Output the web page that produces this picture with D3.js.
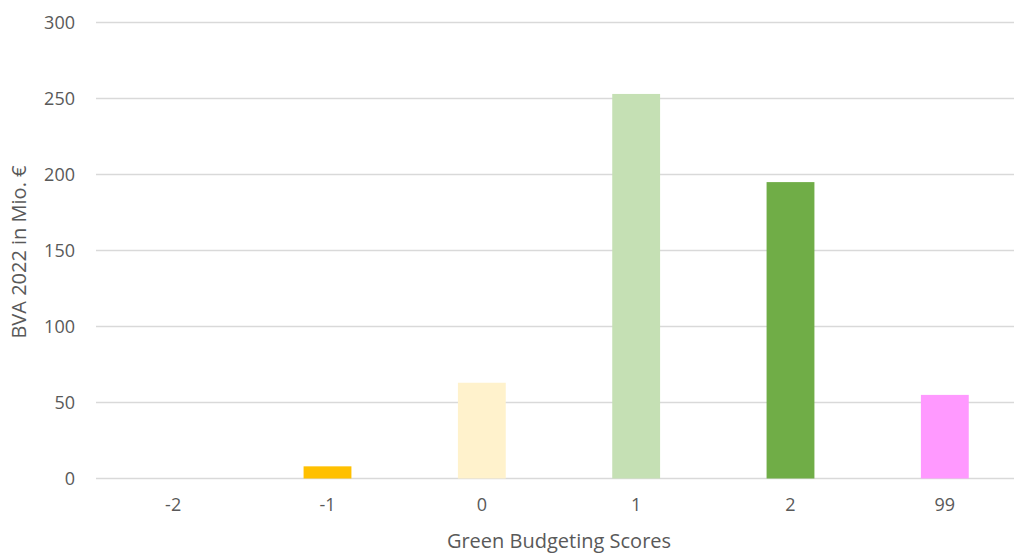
<!DOCTYPE html>
<html lang="de">
<head>
  <meta charset="UTF-8" />
  <title>Green Budgeting Scores</title>
  <script src="https://d3js.org/d3.v7.min.js"></script>
  <style>
    body { margin: 0; background: #fff; }
    .axis text { fill: #595959; font-family: "Open Sans", sans-serif; font-size: 18px; }
    .grid line { stroke: #d9d9d9; stroke-width: 1.5; }
    .title { fill: #595959; font-family: "Open Sans", sans-serif; font-size: 20px; }
  </style>
</head>
<body>
  <div id="chart"></div>

  <script>
    // chart data
    const scores = ["-2", "-1", "0", "1", "2", "99"];
    const values = [0, 8, 63, 253, 195, 55];
    const barColors = ["#FFC000", "#FFC000", "#FFF2CC", "#C5E0B4", "#70AD47", "#FF99FF"];
    const yTicks = [0, 50, 100, 150, 200, 250, 300];

    const width = 1014, height = 554;
    const margin = { top: 22.5, right: -8, bottom: 75.5, left: 96 };
    const chartWidth = width - margin.left - margin.right;
    const chartHeight = height - margin.top - margin.bottom;

    const svg = d3.select("#chart")
      .append("svg")
      .attr("width", width)
      .attr("height", height);

    const g = svg.append("g")
      .attr("transform", `translate(${margin.left},${margin.top})`);

    // Scales
    const x = d3.scaleBand()
      .domain(scores)
      .range([0, chartWidth])
      .paddingInner(0.69)
      .paddingOuter(0.345);

    const y = d3.scaleLinear()
      .domain([0, 300])
      .range([chartHeight, 0]);

    // Gridlines
    g.append("g")
      .attr("class", "grid")
      .selectAll("line")
      .data(yTicks)
      .enter().append("line")
      .attr("x1", 0)
      .attr("x2", chartWidth)
      .attr("y1", d => y(d))
      .attr("y2", d => y(d));

    // Bars
    g.selectAll(".bar")
      .data(scores)
      .enter().append("rect")
      .attr("class", "bar")
      .attr("x", d => x(d))
      .attr("width", x.bandwidth())
      .attr("y", (d, i) => y(values[i]))
      .attr("height", (d, i) => y(0) - y(values[i]))
      .attr("fill", (d, i) => barColors[i]);

    // Axes
    const yAxis = g.append("g")
      .attr("class", "axis")
      .call(d3.axisLeft(y).tickValues(yTicks).tickSize(0).tickPadding(21));
    yAxis.select(".domain").remove();

    const xAxis = g.append("g")
      .attr("class", "axis")
      .attr("transform", `translate(0,${chartHeight})`)
      .call(d3.axisBottom(x).tickSize(0).tickPadding(20));
    xAxis.select(".domain").remove();

    // Axis titles
    svg.append("text")
      .attr("class", "title")
      .attr("x", 559)
      .attr("y", 548)
      .attr("text-anchor", "middle")
      .text("Green Budgeting Scores");

    svg.append("text")
      .attr("class", "title")
      .attr("transform", "translate(26,252) rotate(-90)")
      .attr("text-anchor", "middle")
      .text("BVA 2022 in Mio. €");
  </script>
</body>
</html>
